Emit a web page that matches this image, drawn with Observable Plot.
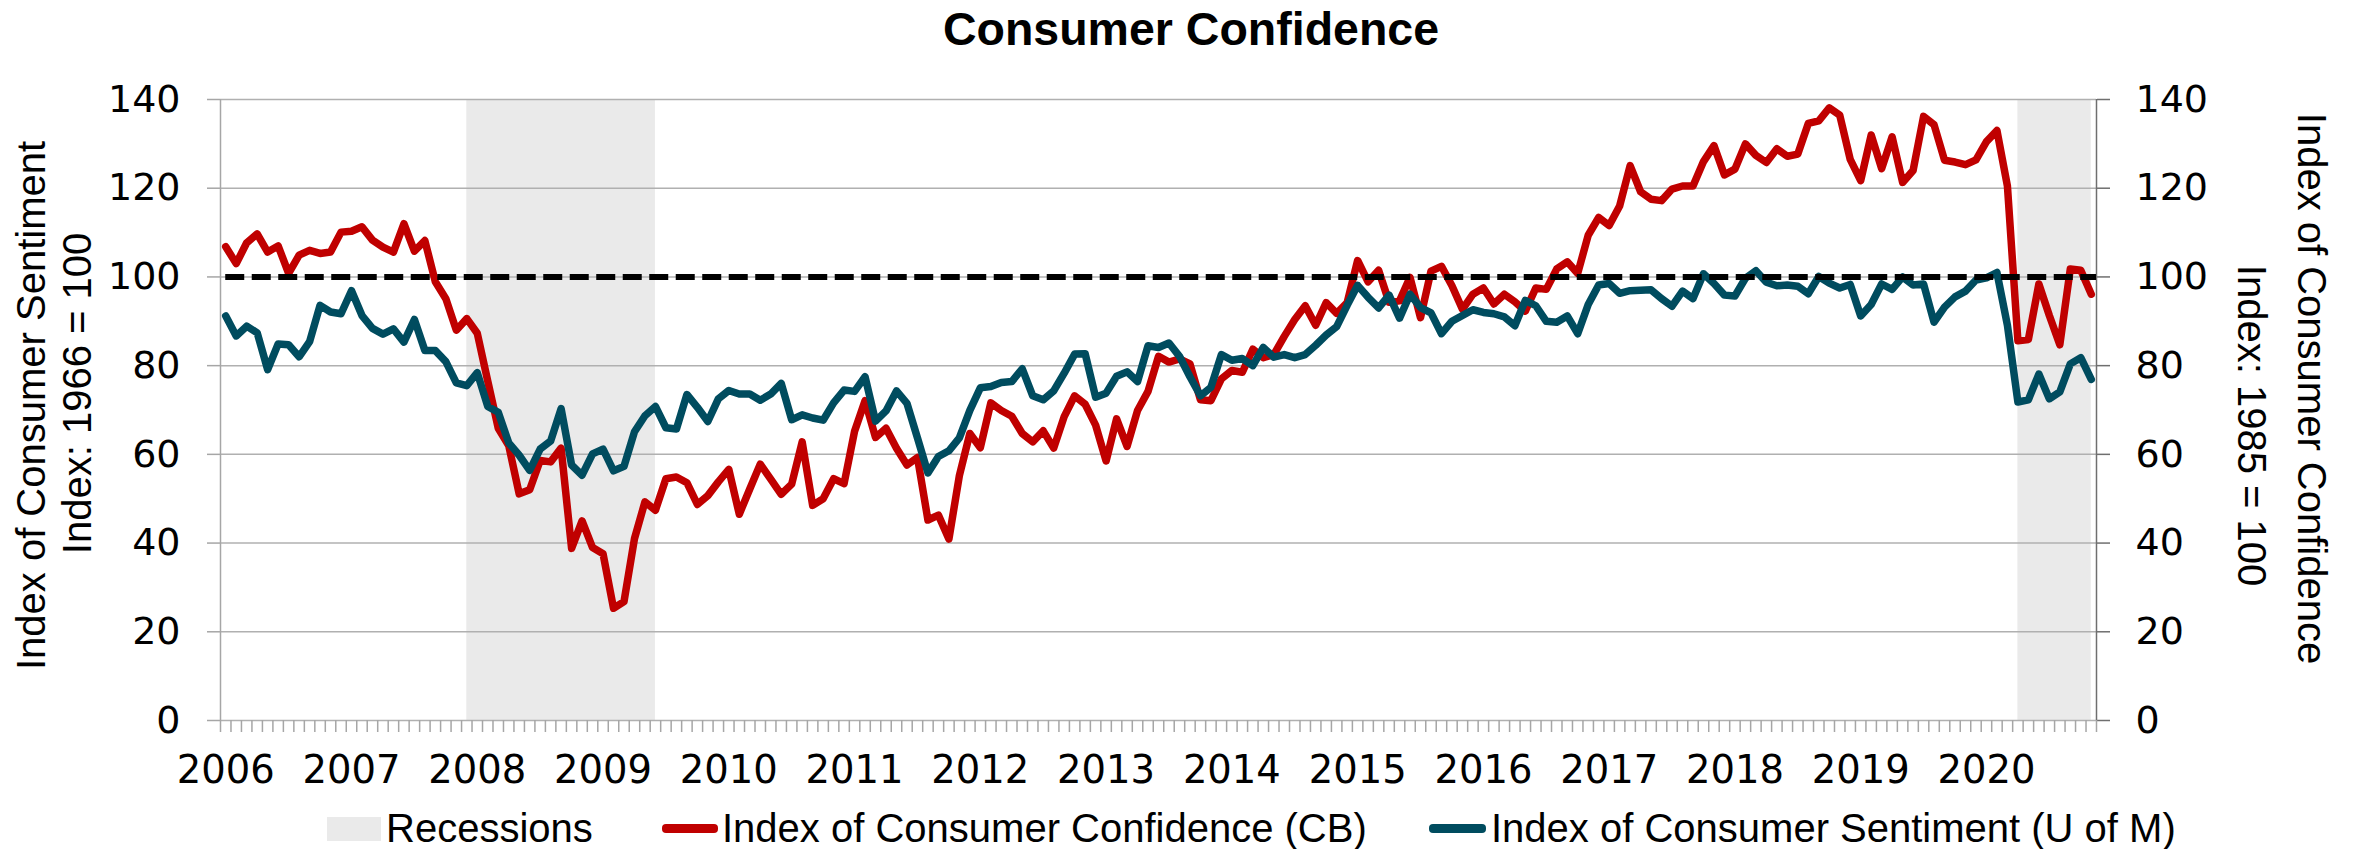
<!DOCTYPE html>
<html><head><meta charset="utf-8">
<script src="https://cdn.jsdelivr.net/npm/d3@7"></script>
<script src="https://cdn.jsdelivr.net/npm/@observablehq/plot@0.6"></script>
<style>
html,body{margin:0;padding:0;background:#fff;}
#wrap{position:relative;width:2354px;height:849px;overflow:hidden;font-family:"Liberation Sans",Arial,sans-serif;color:#000;}
#title{position:absolute;left:0;top:1px;width:2354px;height:80px;text-align:center;font-weight:bold;font-size:46.5px;line-height:56px;padding-left:28px;box-sizing:border-box;}
#chart{position:absolute;left:0;top:80px;}
#legend{position:absolute;left:0;top:800px;width:2354px;height:49px;font-size:40px;}
.sw{position:absolute;}
.lt{position:absolute;top:3px;line-height:50px;white-space:nowrap;}
</style></head><body>
<div id="wrap"><div id="title"></div><div id="chart"></div><div id="legend"></div></div>
<script>
// ---- data ----
const titleText = "Consumer Confidence";
const years = [2006,2007,2008,2009,2010,2011,2012,2013,2014,2015,2016,2017,2018,2019,2020];
const yTicks = [0,20,40,60,80,100,120,140];
const referenceLevel = 100;
const leftTitle = ["Index of Consumer Sentiment", "Index: 1966 = 100"];
const rightTitle = ["Index of Consumer Confidence", "Index: 1985 = 100"];
const seriesNames = ["Recessions", "Index of Consumer Confidence (CB)", "Index of Consumer Sentiment (U of M)"];
const recessionStart = ["2007-12", "2020-04"];
const recessionEnd = ["2009-06", "2020-11"];
// Conference Board index, monthly Jan 2006 - Nov 2020
const cb = [
 106.8,103.0,107.7,109.7,105.6,107.0,100.8,104.9,106.0,105.3,105.6,110.1,
 110.3,111.3,108.3,106.7,105.6,112.0,105.8,108.2,98.9,95.1,88.0,90.6,
 87.3,76.5,65.9,62.0,51.1,52.0,58.6,58.3,61.4,38.8,45.0,39.0,
 37.6,25.3,26.8,41.0,49.3,47.4,54.5,54.9,53.6,48.7,50.7,53.8,
 56.6,46.5,52.2,57.8,54.4,51.0,53.3,62.8,48.5,50.0,54.5,53.4,
 65.2,72.1,63.8,65.9,61.4,57.6,59.3,45.2,46.3,40.9,55.2,64.7,
 61.5,71.6,69.9,68.6,64.7,62.8,65.3,61.4,68.5,73.2,71.3,66.6,
 58.5,68.0,61.8,69.9,74.2,82.1,80.8,81.5,80.4,72.3,72.1,77.0,
 78.9,78.5,83.7,81.8,82.5,86.6,90.4,93.5,89.1,94.2,91.8,94.2,
 103.7,98.9,101.5,94.3,94.6,99.9,90.8,101.3,102.4,98.0,92.7,96.1,
 97.5,93.9,96.1,94.4,92.3,97.5,97.2,101.8,103.4,100.8,109.4,113.4,
 111.6,116.0,125.1,119.2,117.5,117.2,119.8,120.5,120.5,126.0,129.6,123.0,
 124.3,130.0,127.4,125.8,128.9,127.2,127.7,134.6,135.2,138.1,136.5,126.5,
 121.7,132.0,124.4,131.6,121.3,124.0,136.2,134.3,126.3,125.9,125.3,126.4,
 130.5,133.0,120.5,85.6,85.9,98.4,91.3,84.7,101.8,101.5,96.1
];
// University of Michigan index, monthly Jan 2006 - Nov 2020
const umich = [
 91.2,86.7,88.9,87.4,79.1,84.9,84.7,82.0,85.4,93.6,92.1,91.7,
 96.9,91.3,88.4,87.1,88.3,85.3,90.4,83.4,83.4,80.9,76.1,75.5,
 78.4,70.8,69.5,62.6,59.8,56.4,61.2,63.0,70.3,57.6,55.3,60.1,
 61.2,56.3,57.3,65.1,68.7,70.8,66.0,65.7,73.5,70.6,67.4,72.5,
 74.4,73.6,73.6,72.2,73.6,76.0,67.8,68.9,68.2,67.7,71.6,74.5,
 74.2,77.5,67.5,69.8,74.3,71.5,63.7,55.8,59.5,60.8,63.7,69.9,
 75.0,75.3,76.2,76.4,79.3,73.2,72.3,74.3,78.3,82.6,82.7,72.9,
 73.8,77.6,78.6,76.4,84.5,84.1,85.1,82.1,77.5,73.2,75.1,82.5,
 81.2,81.6,80.0,84.1,81.9,82.5,81.8,82.5,84.6,86.9,88.8,93.6,
 98.1,95.4,93.0,95.9,90.7,96.1,93.1,91.9,87.2,90.0,91.3,92.6,
 92.0,91.7,91.0,89.0,94.7,93.5,90.0,89.8,91.2,87.2,93.8,98.2,
 98.5,96.3,96.9,97.0,97.1,95.1,93.4,96.8,95.1,100.7,98.5,95.9,
 95.7,99.7,101.4,98.8,98.0,98.2,97.9,96.2,100.1,98.6,97.5,98.3,
 91.2,93.8,98.4,97.2,100.0,98.2,98.4,89.8,93.2,95.5,96.8,99.3,
 99.8,101.0,89.1,71.8,72.3,78.1,72.5,74.1,80.4,81.8,76.9
];

// ---- derived tables ----
const RED = "#c00000", TEAL = "#004c5f", SHADE = "#eaeaea";
const monthIndex = s => { const [y, m] = s.split("-").map(Number); return (y - years[0]) * 12 + (m - 1); };
const nMonths = cb.length;
const rows = cb.map((v, i) => ({x: i + 0.5, cb: v, um: umich[i]}));
const recessions = recessionStart.map((s, k) => ({x1: monthIndex(s) + 0.5, x2: monthIndex(recessionEnd[k]) + 0.5}));
const yearTicks = years.map(y => monthIndex(`${y}-01`) + 0.5);
const monthBounds = d3.range(nMonths + 1);
const yMin = yTicks[0], yMax = yTicks[yTicks.length - 1];

const titleFont = "Liberation Sans, Arial, sans-serif";

const chart = Plot.plot({
  width: 2354, height: 720,
  marginLeft: 220, marginRight: 258, marginTop: 19, marginBottom: 80,
  x: {type: "linear", domain: [0, nMonths], label: null},
  y: {domain: [yMin, yMax], label: null},
  style: {fontFamily: "DejaVu Sans, sans-serif", fontSize: "38px", background: "white", overflow: "visible", color: "black"},
  marks: [
    Plot.rect(recessions, {x1: "x1", x2: "x2", y1: () => yMin, y2: () => yMax, fill: SHADE}),
    Plot.ruleY(yTicks, {stroke: "#b0b0b0", strokeWidth: 1.5}),
    Plot.ruleX([0], {stroke: "#a6a6a6", strokeWidth: 1.5}),
    Plot.ruleX([nMonths], {stroke: "#6f6f6f", strokeWidth: 1.5}),
    Plot.line(rows, {x: "x", y: "cb", stroke: RED, strokeWidth: 7.5, strokeLinejoin: "round", strokeLinecap: "round"}),
    Plot.line(rows, {x: "x", y: "um", stroke: TEAL, strokeWidth: 7.5, strokeLinejoin: "round", strokeLinecap: "round"}),
    Plot.ruleY([referenceLevel], {x1: () => 0.5, x2: () => nMonths, stroke: "black", strokeWidth: 6, strokeDasharray: "19,7.5"}),
    Plot.axisY({anchor: "left", ticks: yTicks, tickSize: 13, tickPadding: 27, fontSize: 38, stroke: "#a6a6a6", strokeWidth: 1.5, label: null}),
    Plot.axisY({anchor: "right", ticks: yTicks, tickSize: 13, tickPadding: 26, fontSize: 38, stroke: "#6f6f6f", strokeWidth: 1.5, label: null}),
    Plot.axisX({ticks: yearTicks, tickSize: 0, tickPadding: 35, fontSize: 38.5, label: null,
      tickFormat: d => String(years[Math.round((d - 0.5) / 12)])}),
    Plot.axisX({ticks: monthBounds, tickSize: 12, tickFormat: () => "", stroke: "#a6a6a6", strokeWidth: 1.5, label: null}),
    Plot.text([leftTitle[0]], {frameAnchor: "left", dx: -188, dy: -4.5, rotate: -90, fontSize: 40, fontFamily: titleFont, textAnchor: "middle", lineAnchor: "middle"}),
    Plot.text([leftTitle[1]], {frameAnchor: "left", dx: -142, dy: -16.5, rotate: -90, fontSize: 40, fontFamily: titleFont, textAnchor: "middle", lineAnchor: "middle"}),
    Plot.text([rightTitle[0]], {frameAnchor: "right", dx: 214, dy: -21.5, rotate: 90, fontSize: 40, fontFamily: titleFont, textAnchor: "middle", lineAnchor: "middle"}),
    Plot.text([rightTitle[1]], {frameAnchor: "right", dx: 154, dy: 15.5, rotate: 90, fontSize: 40, fontFamily: titleFont, textAnchor: "middle", lineAnchor: "middle"})
  ]
});
document.getElementById("chart").appendChild(chart);
document.getElementById("title").textContent = titleText;

// legend
const legend = document.getElementById("legend");
const items = [
  {sw: {left: 327, top: 17, width: 54, height: 24, background: SHADE}, textLeft: 386},
  {sw: {left: 662, top: 24, width: 56, height: 9, background: RED, borderRadius: "4px"}, textLeft: 722},
  {sw: {left: 1429, top: 24, width: 57, height: 9, background: TEAL, borderRadius: "4px"}, textLeft: 1491}
];
items.forEach((it, k) => {
  const s = document.createElement("div");
  s.className = "sw";
  Object.entries(it.sw).forEach(([p, v]) => s.style[p] = typeof v === "number" ? v + "px" : v);
  legend.appendChild(s);
  const t = document.createElement("div");
  t.className = "lt";
  t.style.left = it.textLeft + "px";
  t.textContent = seriesNames[k];
  legend.appendChild(t);
});
</script></body></html>
